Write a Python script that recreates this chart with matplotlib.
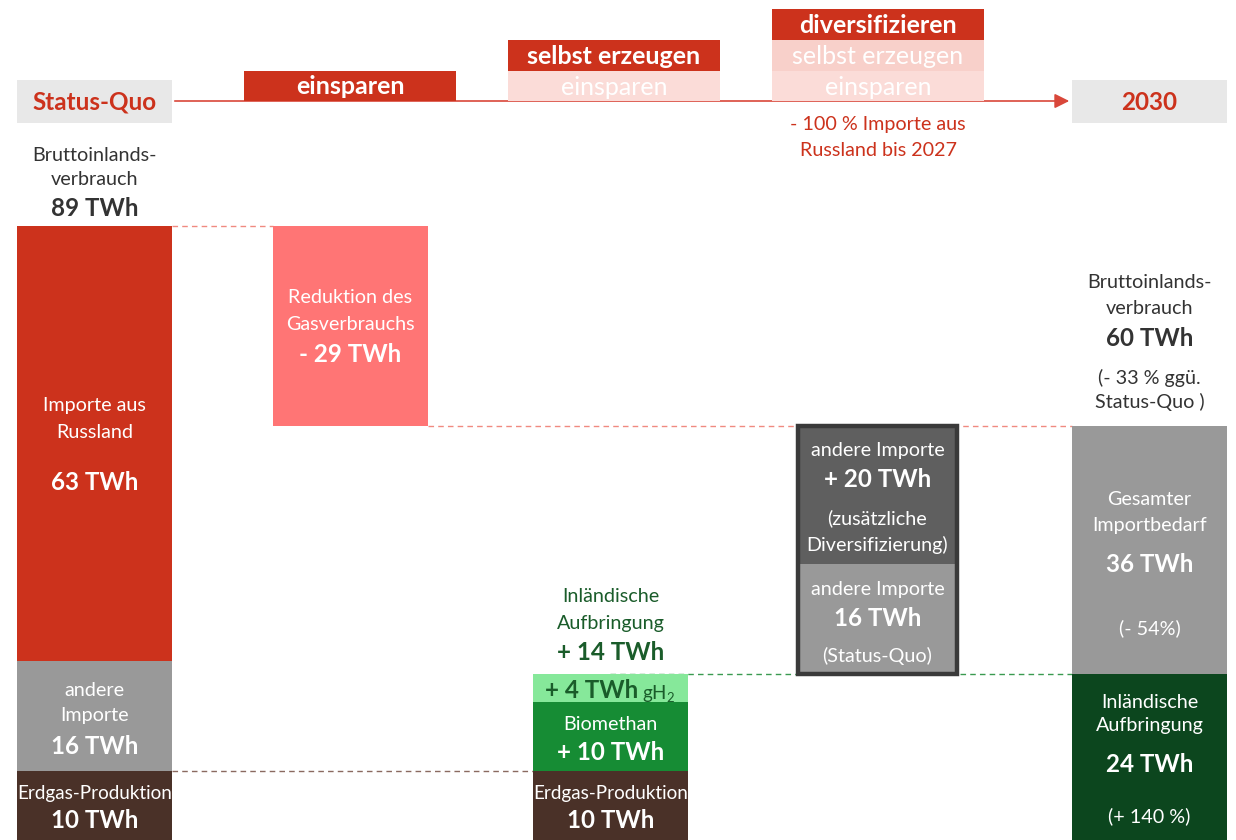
import matplotlib
matplotlib.use('Agg')
import matplotlib.pyplot as plt
from matplotlib.patches import Rectangle
import numpy as np

plt.rcParams['font.family'] = ['Lato', 'DejaVu Sans']
plt.rcParams['mathtext.default'] = 'regular'

# data (TWh)
sq_labels = ['Erdgas-Produktion', 'andere Importe', 'Importe aus Russland']
sq_vals = [10, 16, 63]
reduction = 29
own_labels = ['Erdgas-Produktion', 'Biomethan', 'gH2']
own_vals = [10, 10, 4]
imp_labels = ['andere Importe (Status-Quo)', 'andere Importe (Diversifizierung)']
imp_vals = [16, 20]
target_labels = ['Inländische Aufbringung', 'Gesamter Importbedarf']
target_vals = [24, 36]

RED = '#cc321c'
BROWN = '#4a3128'
GRAY = '#999999'
DGRAY = '#5f5f5f'
PINK = '#ff7575'
GREEN = '#168c34'
LGREEN = '#86e89a'
DGREEN = '#0c461e'
TXT = '#333333'

W, H = 1236, 840
SCALE = 6.9  # px per TWh

REG = 14.2
BIG = 17.4
HEAD = 18

fig = plt.figure(figsize=(W / 100, H / 100), dpi=100)
ax = fig.add_axes([0, 0, 1, 1])
ax.set_xlim(0, W)
ax.set_ylim(0, H / SCALE)
ax.axis('off')


def py(y):
    # pixel row -> data y
    return (H - y) / SCALE


def stack(xc, vals, colors, base=0):
    bottoms = base + np.concatenate([[0], np.cumsum(vals)[:-1]])
    ax.bar(xc, vals, width=155, bottom=bottoms, color=colors, zorder=2)
    return bottoms


def txt(x, y, s, size=REG, color='white', bold=False):
    ax.text(x, py(y), s, ha='center', va='center', fontsize=size, color=color,
            fontweight='bold' if bold else 'normal', zorder=5)


# columns
x1, x2, x3, x4, x5 = 94.5, 350.5, 610.5, 877.5, 1149.5
total = sum(sq_vals)
stack(x1, sq_vals, [BROWN, GRAY, RED])
ax.bar(x2, reduction, width=155, bottom=total - reduction, color=PINK, zorder=2)
stack(x3, own_vals, [BROWN, GREEN, LGREEN])
stack(x4, imp_vals, [GRAY, DGRAY], base=sum(own_vals))
ax.bar(x4, sum(imp_vals), width=159, bottom=sum(own_vals), fill=False,
       edgecolor='#3a3a3a', linewidth=3.2, zorder=3)
stack(x5, target_vals, [DGREEN, GRAY])

# connector lines
new_total = total - reduction
ax.plot([172, 273], [total, total], ls=(0, (4, 3)), color='#f08a80', lw=1, zorder=1)
ax.plot([428, 1072], [new_total, new_total], ls=(0, (4, 3)), color='#f08a80', lw=1, zorder=1)
ax.plot([172, 533], [sq_vals[0], sq_vals[0]], ls=(0, (4, 3)), color='#8a6a60', lw=1, zorder=1)
ax.plot([610, 1072], [sum(own_vals), sum(own_vals)], ls=(0, (4, 3)), color='#3a9a50', lw=1, zorder=1)


# header
def box(x0, x1_, y0, y1, color):
    ax.add_patch(Rectangle((x0, py(y1)), x1_ - x0, py(y0) - py(y1), color=color, lw=0, zorder=2))


ax.annotate('', xy=(1072, py(101)), xytext=(172, py(101)),
            arrowprops=dict(arrowstyle='-|>', color='#d9473a', lw=1.2, mutation_scale=22), zorder=1)
box(17, 172, 80, 123, '#e8e8e8')
box(1072, 1227, 80, 123, '#e8e8e8')
txt(94.5, 102, 'Status-Quo', 17.5, RED, True)
txt(1149.5, 102, '2030', 17.5, RED, True)

box(244, 456, 71, 101, RED)
txt(350, 86, 'einsparen', HEAD, 'white', True)
box(508, 720, 40, 71, RED)
box(508, 720, 71, 101, '#fbdcd8')
txt(614, 56, 'selbst erzeugen', HEAD, 'white', True)
txt(614, 87, 'einsparen', HEAD)
box(772, 984, 9, 40, RED)
box(772, 984, 40, 71, '#f8d0ca')
box(772, 984, 71, 101, '#fbdcd8')
txt(878, 25, 'diversifizieren', HEAD, 'white', True)
txt(878, 56, 'selbst erzeugen', HEAD)
txt(878, 87, 'einsparen', HEAD)
txt(878, 124, '- 100 % Importe aus', REG, RED)
txt(878, 150, 'Russland bis 2027', REG, RED)

# column 1
txt(x1, 155, 'Bruttoinlands-', REG, TXT)
txt(x1, 179, 'verbrauch', REG, TXT)
txt(x1, 208, f'{total} TWh', BIG, TXT, True)
txt(x1, 405, 'Importe aus')
txt(x1, 432, 'Russland')
txt(x1, 483, f'{sq_vals[2]} TWh', BIG, bold=True)
txt(x1, 690, 'andere')
txt(x1, 716, 'Importe')
txt(x1, 746, f'{sq_vals[1]} TWh', BIG, bold=True)
txt(x1, 794, 'Erdgas-Produktion', 13.6)
txt(x1, 820, f'{sq_vals[0]} TWh', BIG, bold=True)

# column 2
txt(x2, 297, 'Reduktion des')
txt(x2, 324, 'Gasverbrauchs')
txt(x2, 354, f'- {reduction} TWh', BIG, bold=True)

# column 3
txt(x3, 597, 'Inländische', REG, '#1a5c2a')
txt(x3, 623, 'Aufbringung', REG, '#1a5c2a')
txt(x3, 653, f'+ {own_vals[1] + own_vals[2]} TWh', BIG, '#1a5c2a', True)
ax.text(638, py(691), f'+ {own_vals[2]} TWh', ha='right', va='center', fontsize=BIG,
        color='#1a5c2a', fontweight='bold', zorder=5)
ax.text(642, py(693), r'gH$_2$', ha='left', va='center', fontsize=13.5, color='#1a5c2a', zorder=5)
txt(x3, 725, 'Biomethan')
txt(x3, 752, f'+ {own_vals[1]} TWh', BIG, bold=True)
txt(x3, 794, 'Erdgas-Produktion', 13.6)
txt(x3, 820, f'{own_vals[0]} TWh', BIG, bold=True)

# column 4
txt(x4, 450, 'andere Importe')
txt(x4, 479, f'+ {imp_vals[1]} TWh', BIG, bold=True)
txt(x4, 518, '(zusätzliche')
txt(x4, 545, 'Diversifizierung)')
txt(x4, 589, 'andere Importe')
txt(x4, 618, f'{imp_vals[0]} TWh', BIG, bold=True)
txt(x4, 656, '(Status-Quo)')

# column 5
txt(x5, 282, 'Bruttoinlands-', REG, TXT)
txt(x5, 308, 'verbrauch', REG, TXT)
txt(x5, 338, f'{new_total} TWh', BIG, TXT, True)
txt(x5, 378, '(- 33 % ggü.', REG, TXT)
txt(x5, 402, 'Status-Quo )', REG, TXT)
txt(x5, 499, 'Gesamter')
txt(x5, 526, 'Importbedarf')
txt(x5, 565, f'{target_vals[1]} TWh', BIG, bold=True)
txt(x5, 628, '(- 54%)')
txt(x5, 702, 'Inländische')
txt(x5, 726, 'Aufbringung')
txt(x5, 765, f'{target_vals[0]} TWh', BIG, bold=True)
txt(x5, 816, '(+ 140 %)')

fig.savefig('out.png', dpi=100)
